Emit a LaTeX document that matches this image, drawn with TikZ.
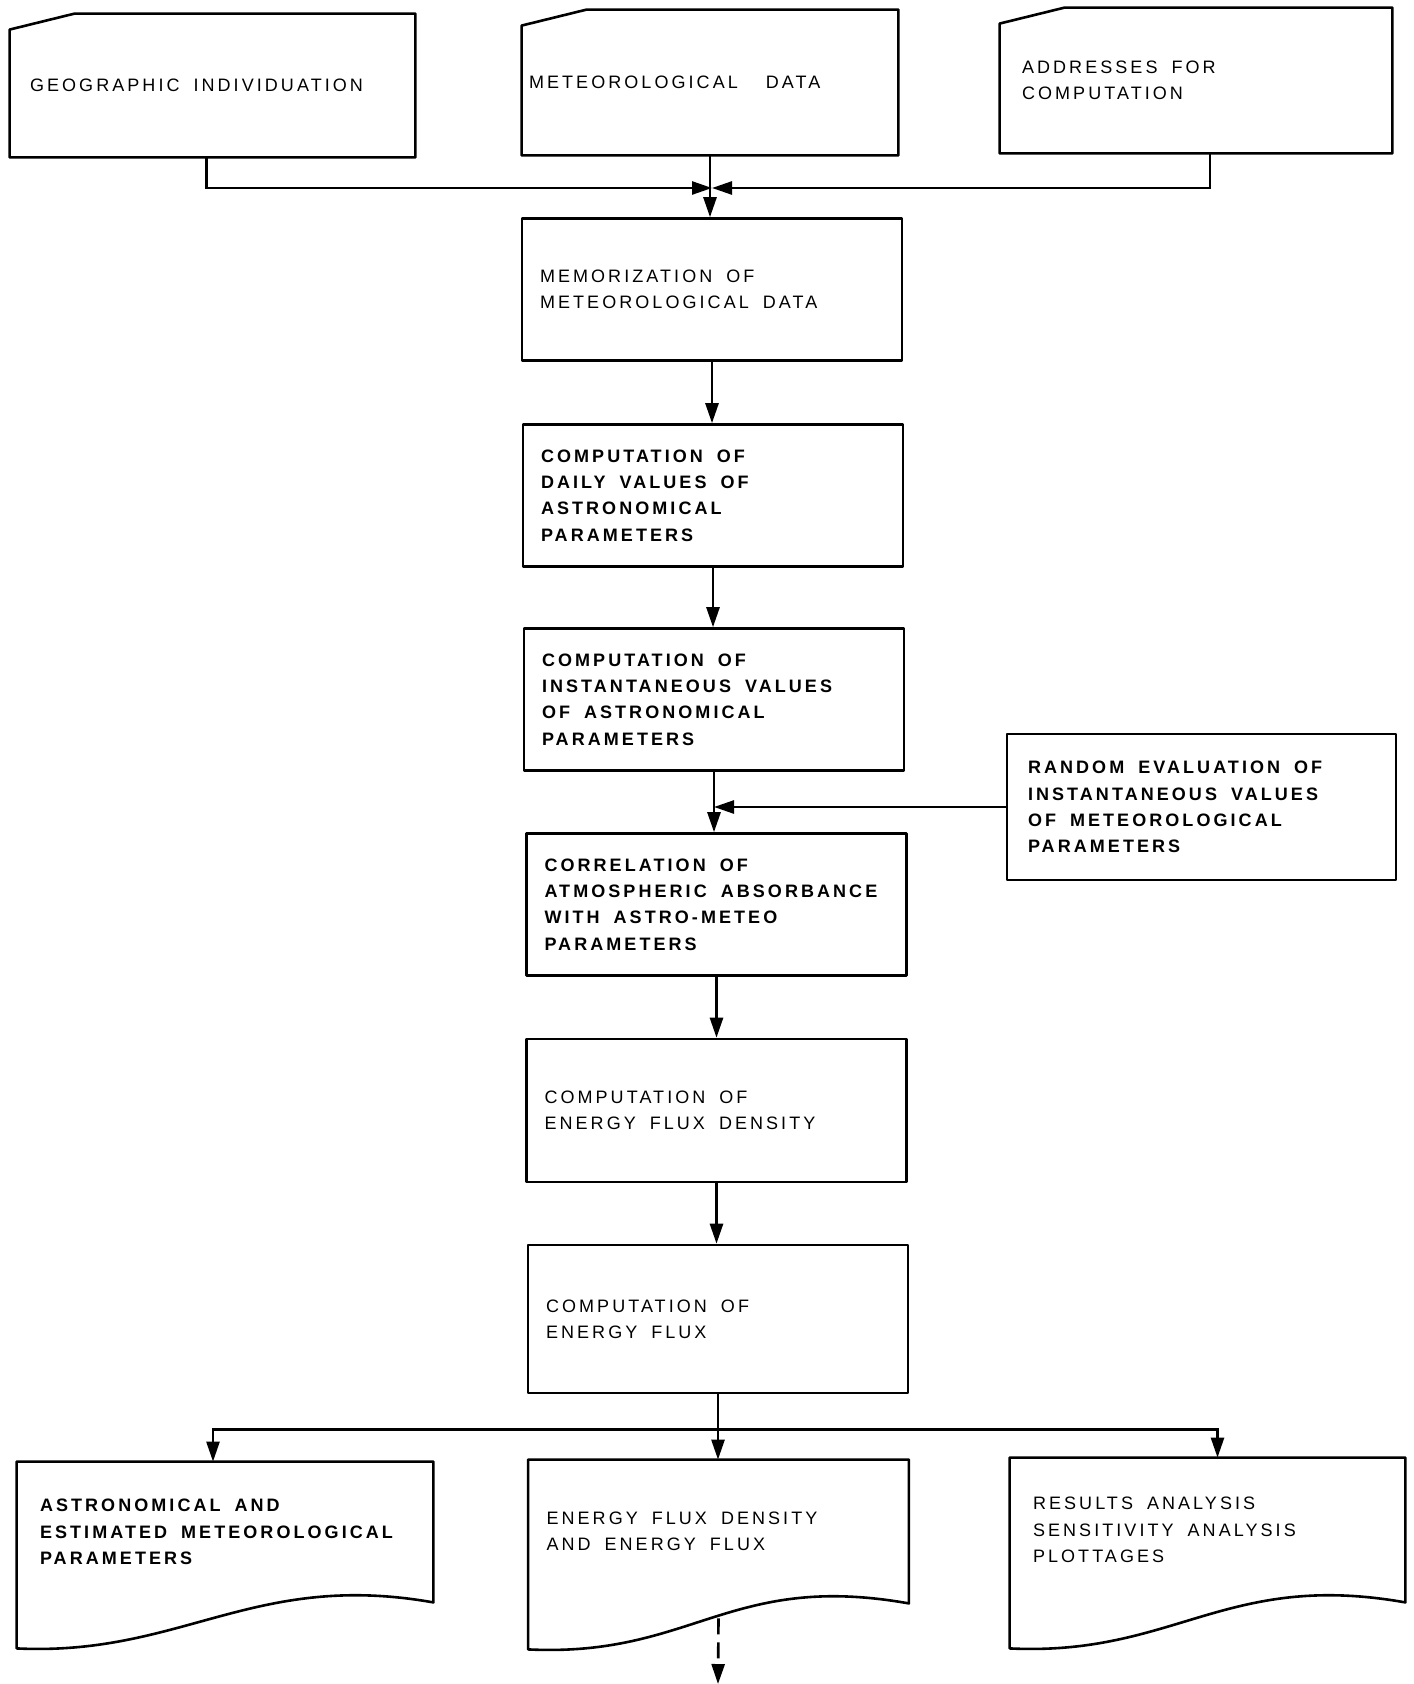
\documentclass[tikz,border=0pt]{standalone}
\usepackage{fontspec}
\setmainfont{Liberation Sans}[LetterSpace=17]
\usetikzlibrary{arrows.meta,calc}
\newcommand{\boxtext}{\fontsize{9}{13.2}\selectfont}

\tikzset{
  outline/.style={line width=1.3pt, line join=round},
  flow/.style={line width=1.3pt, -{Triangle[length=10pt,width=6.5pt]}},
  wide/.style={execute at begin node={\spaceskip=7pt plus 2pt\relax}},
  procbox/.style={draw, outline, align=left, wide, inner xsep=9pt,
    minimum width=190pt, minimum height=71pt, text width=172pt, font=\boxtext},
  cardbox/.style={align=left, wide, font=\boxtext},
  docbox/.style={align=left, wide, font=\boxtext},
}

\begin{document}
\begin{tikzpicture}[x=0.5pt, y=-0.5pt]
  \useasboundingbox (0,0) rectangle (1413,1684);
  % input cards
  \node[cardbox, inner xsep=10pt, minimum width=202.5pt, minimum height=71.5pt,
    text width=182.5pt] (geo) at (212.5,85.5) {GEOGRAPHIC INDIVIDUATION};
  \node[cardbox, inner xsep=3.5pt, minimum width=188pt, minimum height=72.5pt,
    text width=181pt] (meteo) at (710,82.5) {METEOROLOGICAL \ DATA};
  \node[cardbox, inner xsep=11pt, minimum width=196pt, minimum height=72.5pt,
    text width=174pt] (addr) at (1196,80.5) {ADDRESSES FOR\\COMPUTATION};
  \foreach \c in {geo,meteo,addr}
    \draw[outline] (\c.south west) -- ($(\c.north west)+(0,16)$)
      -- ($(\c.north west)+(65,0)$) -- (\c.north east) -- (\c.south east) -- cycle;

  % main column
  \node[procbox] (memo) at (712,289.5) {MEMORIZATION OF\\METEOROLOGICAL DATA};
  \node[procbox, font=\boxtext\bfseries] (daily) at (713,495.5)
    {COMPUTATION OF\\DAILY VALUES OF\\ASTRONOMICAL\\PARAMETERS};
  \node[procbox, font=\boxtext\bfseries] (inst) at (714,699.5)
    {COMPUTATION OF\\INSTANTANEOUS VALUES\\OF ASTRONOMICAL\\PARAMETERS};
  \node[procbox, font=\boxtext\bfseries] (corr) at (716.5,904.5)
    {CORRELATION OF\\ATMOSPHERIC ABSORBANCE\\WITH ASTRO-METEO\\PARAMETERS};
  \node[procbox, minimum height=71.5pt] (efd) at (716.5,1110.5)
    {COMPUTATION OF\\ENERGY FLUX DENSITY};
  \node[procbox, minimum height=74pt] (ef) at (718,1319)
    {COMPUTATION OF\\ENERGY FLUX};
  \node[procbox, font=\boxtext\bfseries, inner xsep=10.5pt, minimum width=194.5pt,
    minimum height=73pt, text width=173.5pt] (random) at (1201.5,807)
    {RANDOM EVALUATION OF\\INSTANTANEOUS VALUES\\OF METEOROLOGICAL\\PARAMETERS};

  % output documents
  \node[docbox, font=\boxtext\bfseries, inner xsep=11.5pt, minimum width=208pt,
    minimum height=70pt, text width=185pt] (astro) at (225,1532)
    {ASTRONOMICAL AND\\ESTIMATED~METEOROLOGICAL\\PARAMETERS};
  \node[docbox, inner xsep=9pt, minimum width=190pt, minimum height=71.5pt,
    text width=172pt] (flux) at (718.5,1531.5)
    {ENERGY FLUX DENSITY\\AND ENERGY FLUX};
  \node[docbox, inner xsep=11.5pt, minimum width=197.5pt, minimum height=72pt,
    text width=174.5pt] (results) at (1207.5,1530)
    {RESULTS ANALYSIS\\SENSITIVITY ANALYSIS\\PLOTTAGES};
  \foreach \d in {astro,flux,results}
    \draw[outline] (\d.north west) -- (\d.north east) -- (\d.south east)
      .. controls +(-180,-32) and +(165,8) .. ($(\d.south west)+(0,46)$) -- cycle;

  % connectors
  \coordinate (J) at (712,188);
  \draw[flow] ($(geo.south)+(-6,0)$) |- (J);
  \draw[flow] ($(addr.south)+(14,0)$) |- (J);
  \draw[flow] (meteo.south) -- (meteo.south |- memo.north);
  \foreach \a/\b in {memo/daily, daily/inst, inst/corr, corr/efd, efd/ef, ef/flux}
    \draw[flow] (\a.south) -- (\a.south |- \b.north);
  \draw[flow] (random.west) -- (random.west -| inst.south);
  \coordinate (B) at ($(ef.south)+(0,35)$);
  \draw[flow] (B) -| ($(astro.north)+(-12,0)$);
  \draw[flow] (B) -| ($(results.north)+(10,0)$);
  \coordinate (out) at (718,1684);
  \draw[flow, dash pattern=on 8pt off 4pt] ($(flux.south)+(0,15)$) -- (out);
\end{tikzpicture}
\end{document}
